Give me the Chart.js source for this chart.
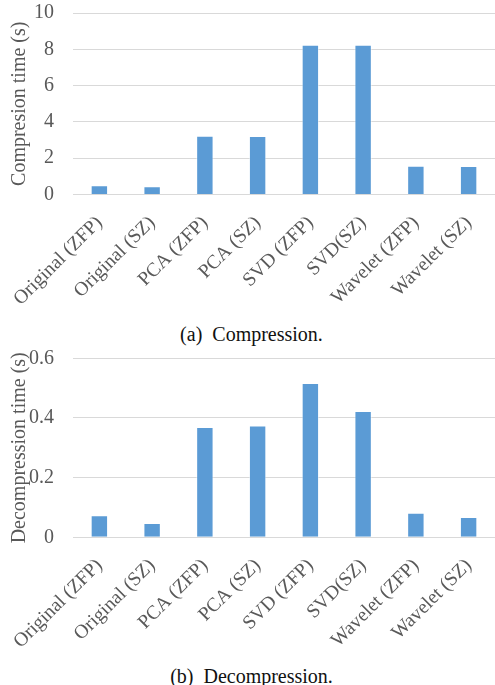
<!DOCTYPE html>
<html>
<head>
<meta charset="utf-8">
<script src="https://cdn.jsdelivr.net/npm/chart.js@4.4.0/dist/chart.umd.min.js"></script>
<style>
  html, body { margin: 0; padding: 0; background: #fff; }
  #page { position: relative; width: 495px; height: 685px; overflow: hidden; }
  .box { position: absolute; left: 0; width: 495px; height: 315px; }
  .caption {
    position: absolute; left: 4px; width: 495px; text-align: center;
    font-family: "Liberation Serif", "DejaVu Serif", serif; font-size: 20px; color: #111;
    line-height: 24px; white-space: pre;
  }
</style>
</head>
<body>
<div id="page">
  <div class="box" style="top:0px"><canvas id="compChart" width="495" height="315"></canvas></div>
  <div class="caption" style="top:322px">(a)  Compression.</div>
  <div class="box" style="top:345px"><canvas id="decompChart" width="495" height="315"></canvas></div>
  <div class="caption" style="top:664px">(b)  Decompression.</div>
</div>
<script>
// Datos
const methods = ['Original (ZFP)', 'Original (SZ)', 'PCA (ZFP)', 'PCA (SZ)', 'SVD (ZFP)', 'SVD(SZ)', 'Wavelet (ZFP)', 'Wavelet (SZ)'];
const compressionTime = [0.51, 0.45, 3.24, 3.22, 8.25, 8.25, 1.59, 1.57];
const decompressionTime = [0.074, 0.048, 0.370, 0.375, 0.517, 0.423, 0.082, 0.068];
const compTicks = { min: 0, max: 10, step: 2 };
const decompTicks = { min: 0, max: 0.6, step: 0.2 };

const serif = '"Liberation Serif", "DejaVu Serif", serif';
const textGray = '#595959';

// Configuración común de los dos gráficos de barras
function barConfig(values, axisTitle, range, plotTop, plotBottom) {
    return {
        type: 'bar',
        data: {
            labels: methods,
            datasets: [{
                data: values,
                backgroundColor: '#5b9bd5',
                borderColor: 'rgba(255, 255, 255, 0.5)',
                borderWidth: 1,
                categoryPercentage: 1,
                barPercentage: 0.33
            }]
        },
        options: {
            responsive: false,
            animation: false,
            layout: { padding: { top: plotTop, right: 0, left: 0, bottom: 0 } },
            plugins: { legend: { display: false }, tooltip: { enabled: false } },
            scales: {
                x: {
                    grid: { display: false },
                    border: { display: false },
                    ticks: {
                        color: textGray,
                        font: { family: serif, size: 19.5 },
                        minRotation: 45,
                        maxRotation: 45,
                        autoSkip: false,
                        padding: 9
                    },
                    afterFit: (s) => {
                        s.height = 315 - plotBottom;
                        s.paddingLeft = 0;
                        s.paddingRight = 0;
                    }
                },
                y: {
                    min: range.min,
                    max: range.max,
                    grid: { color: '#d9d9d9', lineWidth: 1, drawTicks: false },
                    border: { display: false },
                    ticks: {
                        stepSize: range.step,
                        color: textGray,
                        font: { family: serif, size: 20 },
                        padding: 19
                    },
                    title: {
                        display: true,
                        text: axisTitle,
                        color: textGray,
                        font: { family: serif, size: 20 },
                        padding: { top: 8, bottom: 0 }
                    },
                    afterFit: (s) => {
                        s.width = 73;
                        s.paddingTop = 0;
                        s.paddingBottom = 0;
                    }
                }
            }
        }
    };
}

const compChart = new Chart(document.getElementById('compChart'),
    barConfig(compressionTime, 'Compresion time (s)', compTicks, 13, 194.5));
const decompChart = new Chart(document.getElementById('decompChart'),
    barConfig(decompressionTime, 'Decompression time (s)', decompTicks, 13.3, 192.3));
</script>
</body>
</html>
